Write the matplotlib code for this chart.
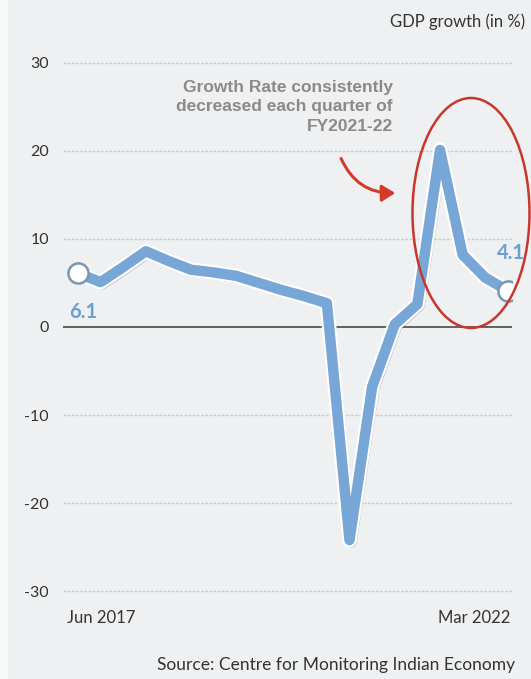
import matplotlib
matplotlib.use('Agg')
import matplotlib.pyplot as plt
import matplotlib.patheffects as pe
from matplotlib.patches import Ellipse, Rectangle, FancyArrowPatch

# quarterly GDP growth, Jun 2017 .. Mar 2022
quarters = ['Jun 2017','Sep 2017','Dec 2017','Mar 2018','Jun 2018','Sep 2018','Dec 2018','Mar 2019',
            'Jun 2019','Sep 2019','Dec 2019','Mar 2020','Jun 2020','Sep 2020','Dec 2020','Mar 2021',
            'Jun 2021','Sep 2021','Dec 2021','Mar 2022']
growth = [6.1, 5.1, 6.8, 8.6, 7.5, 6.5, 6.2, 5.8, 5.0, 4.2, 3.5, 2.7,
          -24.2, -6.8, 0.3, 2.6, 20.1, 8.2, 5.6, 4.1]
yticks = [-30, -20, -10, 0, 10, 20, 30]

bg = '#eef0f1'
blue = '#78a6d6'
W, H = 531, 679

fig = plt.figure(figsize=(W/100, H/100), dpi=100, facecolor=bg)
fig.patches.append(Rectangle((0, 0), 7/W, 1, transform=fig.transFigure, color='#f7f8f8', zorder=0))
ax = fig.add_axes([63/W, 1-600/H, 449/W, 546/H])
ax.set_facecolor(bg)

x = list(range(len(growth)))
for t in yticks:
    if t == 0:
        ax.axhline(t, color='#555555', lw=1.3, zorder=1)
    else:
        ax.axhline(t, color='#c9cbcc', lw=1.0, ls=(0, (2, 1)), zorder=1)

ax.plot(x, growth, color=blue, lw=7.5, solid_joinstyle='round', solid_capstyle='round', zorder=3,
        path_effects=[pe.SimpleLineShadow(offset=(1.5, -1.5), shadow_color='#555555', alpha=0.3),
                      pe.Stroke(linewidth=10.5, foreground='white'), pe.Normal()])
ends = [0, len(growth)-1]
ax.scatter([x[i] for i in ends], [growth[i] for i in ends], s=210, color='white',
           edgecolor='#7c97ad', lw=1.8, zorder=4)

ax.annotate(f'{growth[0]}', (x[0], growth[0]), xytext=(-9, -39), textcoords='offset pixels',
            ha='left', va='center', fontsize=14.5, fontweight='bold', color='#6c9fd0', family='Lato')
ax.annotate(f'{growth[-1]}', (x[-1], growth[-1]), xytext=(3, 38), textcoords='offset pixels',
            ha='center', va='center', fontsize=14.5, fontweight='bold', color='#6c9fd0', family='Lato')

ax.set_xlim(-0.66, 19.18)
ax.set_ylim(-31, 31)
ax.set_yticks(yticks)
ax.set_yticklabels([str(t) for t in yticks], fontsize=11.5, color='#333333', family='Lato')
ax.tick_params(axis='y', length=0, pad=10)
ax.set_xticks([])
for s in ax.spines.values():
    s.set_visible(False)

ax.annotate(quarters[0], (x[0], 0), xycoords=('data', 'axes fraction'), xytext=(-11, -18),
            textcoords='offset pixels', ha='left', va='center', fontsize=12, color='#333333', family='Lato')
ax.annotate(quarters[-1], (x[-1], 0), xycoords=('data', 'axes fraction'), xytext=(2, -18),
            textcoords='offset pixels', ha='right', va='center', fontsize=12, color='#333333', family='Lato')

fig.text(525/W, 1-22/H, 'GDP growth (in %)', ha='right', va='center', fontsize=12, color='#333333', family='Lato')
fig.text(515/W, 1-665/H, 'Source: Centre for Monitoring Indian Economy', ha='right', va='center',
         fontsize=12.5, color='#333333', family='Lato')

fig.text(393/W, 1-107/H, 'Growth Rate consistently\ndecreased each quarter of\nFY2021-22', ha='right',
         va='center', multialignment='right', fontsize=12.5, fontweight='bold', color='#8a8a8a',
         family='Liberation Sans', linespacing=1.4)

fig.patches.append(Ellipse((471/W, 1-213/H), 117/W, 230/H, transform=fig.transFigure, fill=False,
                           edgecolor='#c8372d', lw=1.8, zorder=5))
fig.patches.append(FancyArrowPatch((340/W, 1-156/H), (398/W, 1-193/H), transform=fig.transFigure,
                                   connectionstyle='arc3,rad=0.35', arrowstyle='-|>,head_length=8,head_width=5',
                                   color='#d43a2a', lw=2.2, zorder=5))

fig.savefig('out.png', dpi=100, facecolor=bg)
